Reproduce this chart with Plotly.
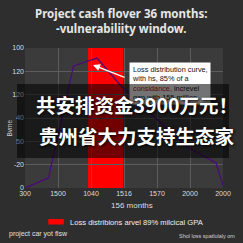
import plotly.graph_objects as go

# ---- data ----
x_tick_labels = ["300", "1500", "1040", "1516", "1570", "2000", "2000"]
y_tick_labels = ["0", "-20", "50", "40", "120", "120", "100"]
curve_x = [0, 0.71, 1.47, 2.18, 2.94, 4.91, 5.79, 6.0]
curve_y = [0, 0.43, 5.23, 5.57, 4.33, 1.76, 1.07, 0.1]
band_x = [1.91, 2.97]

W = H = 243
L, R, T, B = 23, 227, 48, 188


def px(xp):
    return (xp - L) / (R - L)


def py(yp):
    return (B - yp) / (B - T)


fig = go.Figure()
fig.add_trace(go.Scatter(x=curve_x, y=curve_y, mode="lines",
                         line=dict(color="#4a0c78", width=1.3),
                         showlegend=False, hoverinfo="skip"))

fig.add_shape(type="rect", xref="x", yref="paper", x0=band_x[0], x1=band_x[1],
              y0=0, y1=1, fillcolor="#ff0000", line_width=0, layer="between")

ann = []
FONT = "Liberation Sans, Arial, sans-serif"
# title
ann.append(dict(xref="paper", yref="paper", x=px(122), y=py(21), xanchor="center", yanchor="middle",
                text="<b>Project cash flover 36 months:<br>-vulnerabiliity window.</b>",
                font=dict(family="Noto Sans", size=11.5, color="#e6e6e6"), showarrow=False))
# arrow
ann.append(dict(xref="x", yref="y", x=2.06, y=5.27, ax=33, ay=13, text="", showarrow=True,
                arrowhead=2, arrowsize=1, arrowwidth=1.4, arrowcolor="white"))
# white text box
ann.append(dict(xref="paper", yref="paper", x=px(130), y=py(62), xanchor="left", yanchor="top",
                text="Loss distribution curve,<br>with hs, 85% of a<br><span style='color:#d01010'>considance,</span> increvel<br>gap with 155 million.",
                align="left", bgcolor="white", borderpad=2, showarrow=False,
                font=dict(family=FONT, size=7.3, color="#111")))
# axis titles
ann.append(dict(xref="paper", yref="paper", x=px(133), y=py(205), xanchor="center", yanchor="middle",
                text="156 months", font=dict(family=FONT, size=8, color="#dddddd"), showarrow=False))
ann.append(dict(xref="paper", yref="paper", x=px(6), y=py(128), xanchor="center", yanchor="middle",
                text="Bvme", textangle=-90, font=dict(family=FONT, size=6.5, color="#cccccc"), showarrow=False))
# legend
ann.append(dict(xref="paper", yref="paper", x=px(67), y=py(222), xanchor="left", yanchor="middle",
                text="Loss distribions arvel 89% milcical GPA",
                font=dict(family=FONT, size=7.6, color="#eeeeee"), showarrow=False))
# footers
ann.append(dict(xref="paper", yref="paper", x=px(4), y=py(234), xanchor="left", yanchor="middle",
                text="project car yot flsw", font=dict(family=FONT, size=7, color="#e0e0e0"), showarrow=False))
ann.append(dict(xref="paper", yref="paper", x=px(241), y=py(236), xanchor="right", yanchor="middle",
                text="Shol loss spatlulaly om", font=dict(family=FONT, size=5.5, color="#d0d0d0"), showarrow=False))
# dark overlay box
ann.append(dict(xref="paper", yref="paper", x=px(124), y=py(121), xanchor="center", yanchor="middle",
                text=" ", width=212, height=74, bgcolor="rgba(0,0,0,0.55)", borderpad=0,
                borderwidth=0, showarrow=False))
# Chinese headline text
for txt, yy in [("共安排资金3900万元！", 104), ("贵州省大力支持生态家", 135)]:
    ann.append(dict(xref="paper", yref="paper", x=px(138), y=py(yy), xanchor="center", yanchor="middle",
                    text=txt, showarrow=False,
                    font=dict(family="Noto Sans CJK SC", size=19.5, color="white", weight="bold",
                              shadow="1px 1px 3px black")))

# legend swatch
fig.add_shape(type="rect", xref="paper", yref="paper", x0=px(47), x1=px(63), y0=py(224.5), y1=py(219),
              fillcolor="#ff0000", line_width=0)

fig.update_layout(
    width=W, height=H, margin=dict(l=L, r=W - R, t=T, b=H - B),
    paper_bgcolor="#2e2e2e", plot_bgcolor="#3b3b3b",
    annotations=ann, showlegend=False,
    xaxis=dict(range=[0, 6], tickvals=list(range(len(x_tick_labels))), ticktext=x_tick_labels,
               showgrid=True, gridcolor="#5c5c5c", gridwidth=1, zeroline=False, showline=False,
               ticks="", tickfont=dict(family=FONT, size=7, color="#dddddd")),
    yaxis=dict(range=[0, 6], tickvals=list(range(len(y_tick_labels))), ticktext=y_tick_labels,
               showgrid=True, gridcolor="#5c5c5c", gridwidth=1, zeroline=False, showline=False,
               ticks="", tickfont=dict(family=FONT, size=7, color="#dddddd")),
)

fig.write_html("out.html")
